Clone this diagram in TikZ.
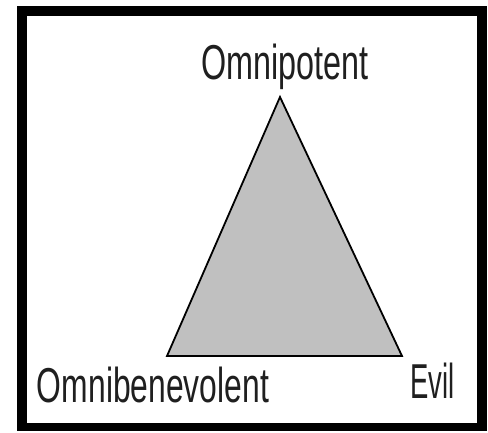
\documentclass[tikz,border=0pt]{standalone}
\usepackage{fontspec}
\setmainfont{Liberation Sans}
\usepackage{graphicx}
\definecolor{trigrey}{HTML}{C0C0C0}
\newcommand{\lbltext}[2]{\scalebox{#1}[1]{\fontsize{49}{49}\selectfont #2}}
\tikzset{
  lbl/.style={inner sep=0pt, outer sep=0pt, text=black!88},
  tri/.style={fill=trigrey, draw=black, line width=1.8pt, line join=miter}
}
\begin{document}
\begin{tikzpicture}[x=1pt,y=1pt]
\useasboundingbox (0,0) rectangle (488,432);
\fill[white] (0,0) rectangle (488,432);
\fill[black] (17,1) rectangle (487,426);
\fill[white] (27,9) rectangle (477,416);
\coordinate (apex) at (280,335);
\coordinate (bl) at (167,76);
\coordinate (br) at (402,76);
\draw[tri] (apex) -- (bl) -- (br) -- cycle;
\node[lbl, anchor=base] (top) at (285,352) {\lbltext{0.66}{Omnipotent}};
\node[lbl, anchor=base west] (left) at (37,30) {\lbltext{0.65}{Omnibenevolent}};
\node[lbl, anchor=base west] (right) at (410,34) {\lbltext{0.56}{Evil}};
\end{tikzpicture}
\end{document}
